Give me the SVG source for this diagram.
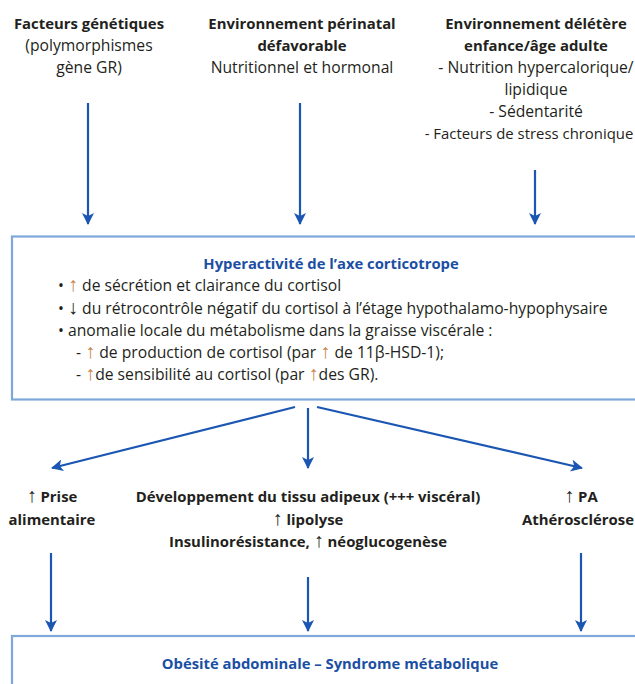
<svg xmlns="http://www.w3.org/2000/svg" width="635" height="684" viewBox="0 0 635 684">
<style>
  text { font-family: "Open Sans", "Liberation Sans", Arial, sans-serif; font-size: 15.7px; fill: #231f20; }
  .c { text-anchor: middle; }
  .b { font-weight: bold; font-size: 14.9px; }
  .t { font-weight: bold; font-size: 14.8px; fill: #1b4fa3; }
  .ar { font-family: "Liberation Sans", Arial, sans-serif; font-size: 20px; }
  .up { fill: #c8834a; }
  .box { fill: #ffffff; stroke: #7fa8da; stroke-width: 2.2; }
  .con { stroke: #1b56b3; stroke-width: 2.2; fill: none; marker-end: url(#ah); }
</style>
<defs>
  <marker id="ah" markerUnits="userSpaceOnUse" markerWidth="12" markerHeight="16" viewBox="0 0 12 16" refX="11" refY="6" orient="auto">
    <path d="M0,0 L12,6 L0,12 L3,6 Z" fill="#1b56b3"/>
  </marker>
</defs>
<rect width="635" height="684" fill="#ffffff"/>

<g id="genetique">
  <text class="c b" x="89" y="29">Facteurs génétiques</text>
  <text class="c" x="89" y="51">(polymorphismes</text>
  <text class="c" x="89" y="73">gène GR)</text>
</g>
<g id="perinatal">
  <text class="c b" x="302" y="29">Environnement périnatal</text>
  <text class="c b" x="302" y="51">défavorable</text>
  <text class="c" x="302" y="73">Nutritionnel et hormonal</text>
</g>
<g id="deletere">
  <text class="c b" x="536" y="29">Environnement délétère</text>
  <text class="c b" x="536" y="51">enfance/âge adulte</text>
  <text class="c" x="536" y="73">- Nutrition hypercalorique/</text>
  <text class="c" x="536" y="95">lipidique</text>
  <text class="c" x="536" y="117">- Sédentarité</text>
  <text class="c" x="529" y="139" style="font-size:14.9px">- Facteurs de stress chronique</text>
</g>

<g id="hyperactivite">
  <rect class="box" x="12" y="236.5" width="650" height="163"/>
  <text class="c t" x="331" y="269">Hyperactivité de l’axe corticotrope</text>
  <text x="58" y="291">• <tspan class="ar up">↑</tspan> de sécrétion et clairance du cortisol</text>
  <text x="58" y="314">• <tspan class="ar">↓</tspan> du rétrocontrôle négatif du cortisol à l’étage hypothalamo-hypophysaire</text>
  <text x="58" y="336">• anomalie locale du métabolisme dans la graisse viscérale :</text>
  <text x="76" y="358">- <tspan class="ar up">↑</tspan> de production de cortisol (par <tspan class="ar up">↑</tspan> de 11β-HSD-1);</text>
  <text x="76" y="380">- <tspan class="ar up">↑</tspan>de sensibilité au cortisol (par <tspan class="ar up">↑</tspan>des GR).</text>
</g>

<g id="prise">
  <text class="c b" x="52" y="502"><tspan class="ar">↑</tspan> Prise</text>
  <text class="c b" x="52" y="525">alimentaire</text>
</g>
<g id="tissu">
  <text class="c b" x="308" y="502">Développement du tissu adipeux (+++ viscéral)</text>
  <text class="c b" x="308" y="525"><tspan class="ar">↑</tspan> lipolyse</text>
  <text class="c b" x="308" y="547">Insulinorésistance, <tspan class="ar">↑</tspan> néoglucogenèse</text>
</g>
<g id="pa">
  <text class="c b" x="581" y="502"><tspan class="ar">↑</tspan> PA</text>
  <text class="c b" x="578" y="525">Athérosclérose</text>
</g>

<g id="obesite">
  <rect class="box" x="12" y="636" width="650" height="100"/>
  <text class="c t" x="330" y="669">Obésité abdominale – Syndrome métabolique</text>
</g>

<g id="connectors">
  <line class="con" x1="88" y1="103" x2="88" y2="224"/>
  <line class="con" x1="300" y1="103" x2="300" y2="224"/>
  <line class="con" x1="535" y1="170" x2="535" y2="224"/>
  <line class="con" x1="295" y1="407" x2="52" y2="468"/>
  <line class="con" x1="308" y1="408" x2="308" y2="468"/>
  <line class="con" x1="317" y1="407" x2="582" y2="468"/>
  <line class="con" x1="51" y1="553" x2="51" y2="631"/>
  <line class="con" x1="308" y1="577" x2="308" y2="631"/>
  <line class="con" x1="581" y1="553" x2="581" y2="631"/>
</g>
</svg>
